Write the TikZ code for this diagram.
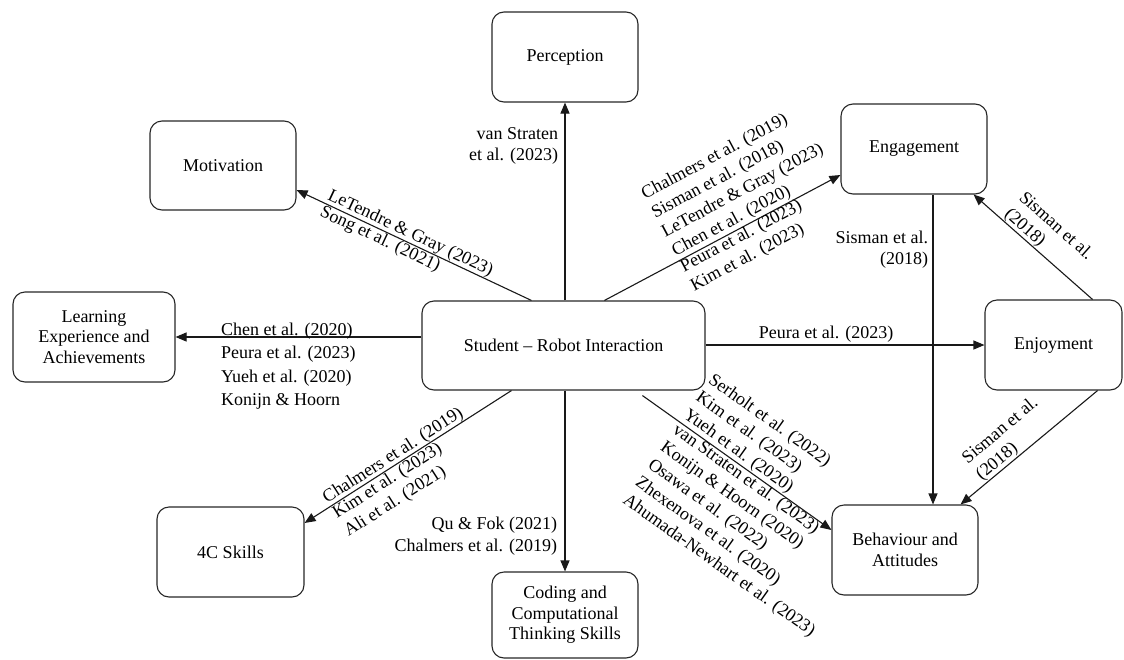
\documentclass[tikz,border=0pt]{standalone}
\usepackage{fontspec}
\setmainfont{Liberation Serif}
\usetikzlibrary{arrows.meta,calc}
\begin{document}
\begin{tikzpicture}[x=1pt,y=-1pt,
  box/.style={draw=black!85, line width=1.1pt, rounded corners=12pt, align=center, inner sep=2pt, font=\fontsize{18}{20.5}\selectfont},
  arr/.style={draw=black!90, line width=1.1pt, -{Triangle[length=11pt,width=9pt]}},
  lbl/.style={font=\fontsize{18}{21.5}\selectfont, inner sep=0.8pt},
]
\useasboundingbox (0,0) rectangle (1124,659);
% boxes
\node[box, minimum width=146pt, minimum height=90pt] (perc) at (565,57) {Perception};
\node[box, minimum width=146pt, minimum height=89pt] (mot) at (223,165.5) {Motivation};
\node[box, minimum width=146pt, minimum height=90pt] (eng) at (914,149) {Engagement};
\node[box, minimum width=162pt, minimum height=90pt] (learn) at (94,337) {Learning\\Experience and\\Achievements};
\node[box, minimum width=283pt, minimum height=89pt] (stud) at (563.5,345.5) {Student – Robot Interaction};
\node[box, minimum width=137pt, minimum height=90pt] (enj) at (1053.5,345) {Enjoyment};
\node[box, minimum width=147pt, minimum height=90pt] (fourc) at (230.5,552) {4C Skills};
\node[box, minimum width=146pt, minimum height=86pt] (code) at (565,615) {Coding and\\Computational\\Thinking Skills};
\node[box, minimum width=146pt, minimum height=90pt] (beh) at (905,550) {Behaviour and\\Attitudes};
% connectors
\draw[arr] (stud.north -| perc.south) -- (perc.south);
\draw[arr] ($(stud.north west)+(110,0)$) -- ($(mot.east)+(0,24.5)$);
\draw[arr] ($(stud.north west)+(183,0)$) -- ($(eng.west)+(0,26)$);
\draw[arr] (stud.west |- learn.east) -- (learn.east);
\draw[arr] (stud.east |- enj.west) -- (enj.west);
\draw[arr] ($(stud.south west)+(90,0)$) -- ($(fourc.east)+(0,-29)$);
\draw[arr] (stud.south -| code.north) -- (code.north);
\draw[arr] ($(stud.south west)+(221,5)$) -- ($(beh.west)+(0,-20)$);
\coordinate (e1) at ($(eng.south)+(19,0)$);
\draw[arr] (e1) -- (e1 |- beh.north);
\draw[arr] ($(enj.north east)+(-30,0)$) -- ($(eng.south east)+(-14,0)$);
\draw[arr] ($(enj.south east)+(-25,0)$) -- ($(beh.north east)+(-18,0)$);
% labels
\node[lbl, anchor=east, align=right] (lp) at (559,146) {van Straten\\et al. (2023)};
\node[lbl, anchor=south west, align=left, rotate=-25.2] (lm1) at (324,203.2) {LeTendre \& Gray (2023)};
\node[lbl, anchor=north west, align=left, rotate=-25.2] (lm2) at (324,203.2) {Song et al. (2021)};
\node[lbl, anchor=south west, align=left, rotate=28.1] (le1) at (677,261) {Chalmers et al. (2019)\\Sisman et al. (2018)\\LeTendre \& Gray (2023)\\Chen et al. (2020)};
\node[lbl, anchor=north west, align=left, rotate=28.1] (le2) at (677,261) {Peura et al. (2023)\\Kim et al. (2023)};
\node[lbl, anchor=north west, align=left, inner sep=0pt, font=\fontsize{18}{23.3}\selectfont] (ll) at (221,323) {Chen et al. (2020)\\Peura et al. (2023)\\Yueh et al. (2020)\\Konijn \& Hoorn};
\node[lbl, anchor=south] (lj) at (826,343) {Peura et al. (2023)};
\node[lbl, anchor=south west, rotate=32.6, align=left] (lc1) at (329,508) {Chalmers et al. (2019)};
\node[lbl, anchor=north west, rotate=32.6, align=left] (lc2) at (329,508) {Kim et al. (2023)\\Ali et al. (2021)};
\node[lbl, anchor=east, align=right] (lq) at (558,536) {Qu \& Fok (2021)\\Chalmers et al. (2019)};
\node[lbl, anchor=south west, rotate=-35.5, align=left] (lb1) at (679,420.7) {Serholt et al. (2022)\\Kim et al. (2023)\\Yueh et al. (2020)};
\node[lbl, anchor=north west, rotate=-35.5, align=left] (lb2) at (679,420.7) {van Straten et al. (2023)\\Konijn \& Hoorn (2020)\\Osawa et al. (2022)\\Zhexenova et al. (2020)\\Ahumada-Newhart et al. (2023)};
\node[lbl, anchor=east, align=right] (ls) at (929,249.5) {Sisman et al.\\(2018)};
\node[lbl, anchor=south west, rotate=-41.7, align=left] (lee) at (1000,218) {Sisman et al.\\(2018)};
\node[lbl, anchor=south west, rotate=40, align=left] (leb) at (984,485) {Sisman et al.\\(2018)};
\end{tikzpicture}
\end{document}
